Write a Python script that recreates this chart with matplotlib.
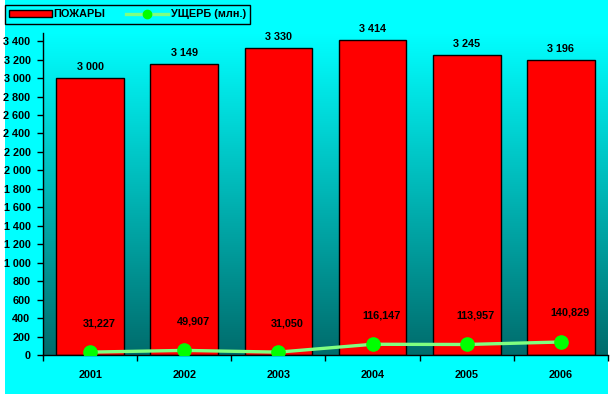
import matplotlib
matplotlib.use("Agg")
import matplotlib.pyplot as plt
import numpy as np
from matplotlib.patches import Rectangle
from matplotlib.lines import Line2D
from matplotlib.colors import LinearSegmentedColormap

years = ["2001", "2002", "2003", "2004", "2005", "2006"]
fires = [3000, 3149, 3330, 3414, 3245, 3196]
damage = [31.227, 49.907, 31.050, 116.147, 113.957, 140.829]
fires_labels = ["3 000", "3 149", "3 330", "3 414", "3 245", "3 196"]
damage_labels = ["31,227", "49,907", "31,050", "116,147", "113,957", "140,829"]
yticks = list(range(0, 3401, 200))

plt.rcParams['font.family'] = ['Liberation Sans', 'DejaVu Sans']
plt.rcParams['font.weight'] = 'bold'
FS = 7.8

W, H = 613, 398
fig = plt.figure(figsize=(W/100, H/100), dpi=100, facecolor='white')
fig.patches.append(Rectangle((5/W, 4/H), 603/W, 394/H, transform=fig.transFigure,
                             facecolor='#00FFFF', edgecolor='none', zorder=-10))

ax = fig.add_axes([43/W, (H-355)/H, (608-43)/W, (355-33)/H])
ax.set_facecolor('none')
x = np.arange(len(years))
ax.set_xlim(-0.5, len(years)-0.5)
ax.set_ylim(0, 3488)

cmap = LinearSegmentedColormap.from_list('g', ['#006C6C', '#00FFFF'])
grad = np.linspace(0, 1, 256).reshape(-1, 1)
ax.imshow(grad, aspect='auto', cmap=cmap, origin='lower',
          extent=[-0.5, len(years)-0.5, 0, 3488], zorder=0)

ax.bar(x, fires, width=0.72, color='#FF0000', edgecolor='black', linewidth=1, zorder=2)
for xi, v, lab in zip(x, fires, fires_labels):
    ax.annotate(lab, (xi, v), xytext=(0, 11), textcoords='offset pixels',
                ha='center', va='center', fontsize=FS, fontweight='bold')

ax.plot(x, damage, color='#80FF80', linewidth=2.4, zorder=3)
ax.plot(x, damage, linestyle='none', marker='o', markersize=9.5,
        markerfacecolor='#00FF00', markeredgecolor='#00FF00', zorder=4)
for xi, v, lab in zip(x, damage, damage_labels):
    ax.annotate(lab, (xi, v), xytext=(9, 29), textcoords='offset pixels',
                ha='center', va='center', fontsize=FS, fontweight='bold')

for s in ['top', 'right']:
    ax.spines[s].set_visible(False)
ax.spines['left'].set_linewidth(1)
ax.spines['bottom'].set_linewidth(1)

ax.set_yticks(yticks)
ax.set_yticklabels([f"{t:,}".replace(',', ' ') for t in yticks])
ax.tick_params(axis='y', direction='out', length=4, width=1, pad=5, labelsize=FS)
ax.set_xticks(x)
ax.set_xticklabels(years)
ax.set_xticks(np.arange(-0.5, len(years)), minor=True)
ax.tick_params(axis='x', which='major', length=0, pad=11, labelsize=FS)
ax.tick_params(axis='x', which='minor', direction='out', length=4, width=1)
for lab in ax.get_xticklabels() + ax.get_yticklabels():
    lab.set_fontweight('bold')

handles = [Rectangle((0, 0), 1, 1, facecolor='#FF0000', edgecolor='black', linewidth=1),
           Line2D([], [], color='#80FF80', linewidth=2.4, marker='o', markersize=6,
                  markerfacecolor='#00FF00', markeredgecolor='#00FF00')]
leg = fig.legend(handles, ['ПОЖАРЫ', 'УЩЕРБ (млн.)'], ncol=2, loc='upper left',
                 bbox_to_anchor=(5/W, 1-5/H), frameon=True, fancybox=False,
                 edgecolor='black', facecolor='#00FFFF', framealpha=1,
                 fontsize=FS, handlelength=3.9, handleheight=0.7, handletextpad=0.2,
                 columnspacing=1.9, borderpad=0.4, borderaxespad=0)
leg.get_frame().set_linewidth(1)
for t in leg.get_texts():
    t.set_fontweight('bold')

fig.savefig('out.png', dpi=100, facecolor='white')
